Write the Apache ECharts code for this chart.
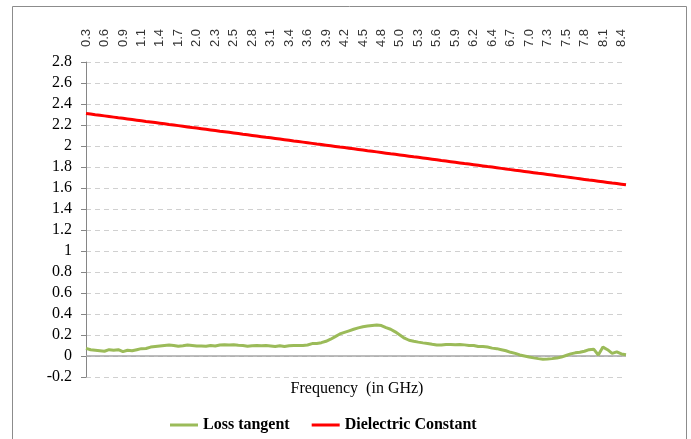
<!DOCTYPE html>
<html>
<head>
<meta charset="utf-8">
<script src="https://cdn.jsdelivr.net/npm/echarts@6/dist/echarts.min.js"></script>
<style>html,body{margin:0;padding:0;background:#fff}#c{width:691px;height:439px}</style>
</head>
<body>
<div id="c"></div>
<script>
// Frequency tick labels (GHz), one every 4 samples
const tickLabels = ['0.3','0.6','0.9','1.1','1.4','1.7','2.0','2.3','2.5','2.8','3.1','3.4','3.6','3.9','4.2','4.5','4.8','5.0','5.3','5.6','5.9','6.2','6.4','6.7','7.0','7.3','7.5','7.8','8.1','8.4'];
const samplesPerTick = 4;

// Loss tangent, one value per sample
const lossTangent = [
0.073,0.060,0.055,0.050,0.045,0.060,0.055,0.060,0.042,0.055,
0.050,0.060,0.070,0.072,0.085,0.090,0.095,0.100,0.105,0.100,
0.092,0.098,0.105,0.100,0.095,0.095,0.093,0.100,0.095,0.105,
0.108,0.105,0.108,0.103,0.100,0.093,0.098,0.100,0.097,0.100,
0.095,0.090,0.097,0.090,0.097,0.100,0.100,0.100,0.105,0.118,
0.120,0.127,0.140,0.160,0.185,0.210,0.225,0.240,0.255,0.268,
0.278,0.285,0.290,0.295,0.290,0.270,0.255,0.230,0.200,0.170,
0.150,0.140,0.132,0.125,0.120,0.112,0.105,0.105,0.110,0.110,
0.108,0.110,0.106,0.100,0.100,0.090,0.090,0.085,0.075,0.070,
0.060,0.050,0.035,0.025,0.010,0.000,-0.010,-0.018,-0.025,-0.030,
-0.028,-0.025,-0.020,-0.010,0.005,0.020,0.030,0.035,0.045,0.060,
0.065,0.010,0.085,0.060,0.025,0.040,0.020,0.012
];

// Dielectric constant, one value per sample
const dielectricConstant = [
2.310,2.304,2.298,2.293,2.287,2.281,2.275,2.269,2.264,2.258,
2.252,2.246,2.240,2.234,2.229,2.223,2.217,2.211,2.205,2.200,
2.194,2.188,2.182,2.176,2.171,2.165,2.159,2.153,2.147,2.141,
2.136,2.130,2.124,2.118,2.112,2.107,2.101,2.095,2.089,2.083,
2.078,2.072,2.066,2.060,2.054,2.048,2.043,2.037,2.031,2.025,
2.019,2.014,2.008,2.002,1.996,1.990,1.985,1.979,1.973,1.967,
1.961,1.955,1.950,1.944,1.938,1.932,1.926,1.921,1.915,1.909,
1.903,1.897,1.892,1.886,1.880,1.874,1.868,1.862,1.857,1.851,
1.845,1.839,1.833,1.828,1.822,1.816,1.810,1.804,1.799,1.793,
1.787,1.781,1.775,1.769,1.764,1.758,1.752,1.746,1.740,1.735,
1.729,1.723,1.717,1.711,1.706,1.700,1.694,1.688,1.682,1.676,
1.671,1.665,1.659,1.653,1.647,1.642,1.636,1.630
];

const yTicks = {min: -0.2, max: 2.8, interval: 0.2};

const toPairs = arr => arr.map((v, i) => [i, v]);
const serif = 'Liberation Serif';

const chart = echarts.init(document.getElementById('c'), null, {renderer: 'canvas'});
chart.setOption({
  animation: false,
  backgroundColor: '#ffffff',
  grid: {left: 86, right: 65, top: 62, bottom: 62, containLabel: false},
  xAxis: {
    type: 'value',
    position: 'top',
    min: 0,
    max: lossTangent.length - 1,
    interval: samplesPerTick,
    axisLine: {show: false},
    axisTick: {show: false},
    splitLine: {show: false},
    axisLabel: {
      rotate: 90,
      margin: 15,
      fontFamily: 'Liberation Sans',
      fontSize: 13,
      color: '#333333',
      showMaxLabel: true,
      formatter: v => {
        const k = v / samplesPerTick;
        return Number.isInteger(k) && tickLabels[k] !== undefined ? tickLabels[k] : '';
      }
    }
  },
  yAxis: {
    type: 'value',
    min: yTicks.min,
    max: yTicks.max,
    interval: yTicks.interval,
    axisLine: {show: true, lineStyle: {color: '#868686', width: 1}},
    axisTick: {show: true, length: 5, lineStyle: {color: '#868686'}},
    splitLine: {show: true, lineStyle: {color: '#d0d0d0', type: [5, 4], width: 1}},
    axisLabel: {
      margin: 14,
      fontFamily: serif,
      fontSize: 16,
      color: '#000000',
      formatter: v => String(Math.round(v * 10) / 10)
    }
  },
  legend: {
    left: 165,
    top: 412,
    icon: 'rect',
    itemWidth: 28,
    itemHeight: 3,
    itemGap: 22,
    textStyle: {fontFamily: serif, fontSize: 16, fontWeight: 'bold', color: '#000000'},
    data: ['Loss tangent', 'Dielectric Constant']
  },
  graphic: [
    {
      type: 'rect',
      silent: true,
      shape: {x: 12.5, y: 6.5, width: 674, height: 460},
      style: {fill: 'none', stroke: '#8c8c8c', lineWidth: 1}
    },
    {
      type: 'text',
      x: 357,
      y: 389,
      style: {
        text: 'Frequency  (in GHz)',
        font: '16px "Liberation Serif"',
        fill: '#000000',
        textAlign: 'center',
        textVerticalAlign: 'middle'
      }
    }
  ],
  series: [
    {
      name: 'Loss tangent',
      type: 'line',
      data: toPairs(lossTangent),
      showSymbol: false,
      symbol: 'none',
      lineStyle: {color: '#9BBB59', width: 3},
      itemStyle: {color: '#9BBB59'},
      z: 3,
      markLine: {
        silent: true,
        symbol: 'none',
        label: {show: false},
        lineStyle: {color: '#a6a6a6', type: 'solid', width: 1.5},
        data: [{yAxis: 0}],
        z: 1
      }
    },
    {
      name: 'Dielectric Constant',
      type: 'line',
      data: toPairs(dielectricConstant),
      showSymbol: false,
      symbol: 'none',
      lineStyle: {color: '#FF0000', width: 3},
      itemStyle: {color: '#FF0000'},
      z: 4
    }
  ]
});
</script>
</body>
</html>
